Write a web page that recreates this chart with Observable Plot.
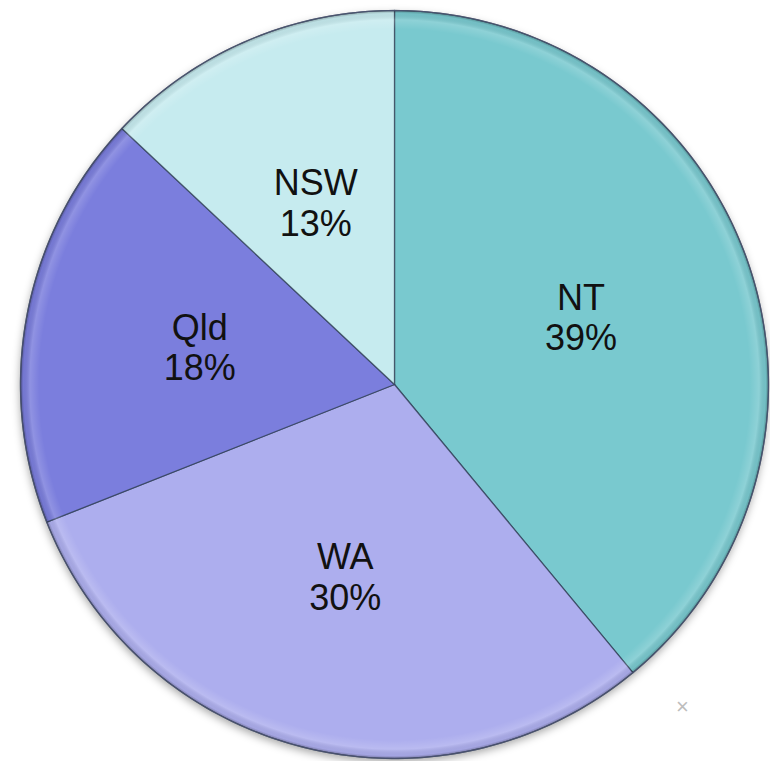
<!DOCTYPE html>
<html>
<head>
<meta charset="utf-8">
<script src="https://cdn.jsdelivr.net/npm/d3@7"></script>
<script src="https://cdn.jsdelivr.net/npm/@observablehq/plot@0.6"></script>
<style>
  html, body { margin: 0; padding: 0; background: #fff; }
  #wrap { position: relative; width: 770px; height: 761px; }
  #stray { position: absolute; left: 676px; top: 694px; font: 22px "Liberation Sans", Arial, sans-serif; color: #bdbdbd; }
</style>
</head>
<body>
<div id="wrap"><div id="chart"></div><span id="stray">×</span></div>
<script>
// ---- data ----
const states = ["NT", "WA", "Qld", "NSW"];
const shares = [39, 30, 18, 13];
const colors = ["#79c9cf", "#adaeee", "#7b7edd", "#c6ebef"];

// ---- build slice polygons from the data ----
const total = d3.sum(shares);
const slices = [];
const labels = [];
let cum = 0;
states.forEach((s, i) => {
  const a0 = cum / total * 2 * Math.PI;
  cum += shares[i];
  const a1 = cum / total * 2 * Math.PI;
  slices.push({state: s, x: 0, y: 0});
  const n = Math.max(2, Math.ceil((a1 - a0) / (Math.PI / 180)));
  for (let k = 0; k <= n; k++) {
    const a = a0 + (a1 - a0) * k / n;
    slices.push({state: s, x: Math.sin(a), y: Math.cos(a)});
  }
  const am = (a0 + a1) / 2;
  const lr = 0.53;
  labels.push({state: s, share: shares[i], x: lr * Math.sin(am), y: lr * Math.cos(am)});
});
const rim = d3.range(0, 361).map(d => ({x: Math.sin(d * Math.PI / 180), y: Math.cos(d * Math.PI / 180)}));

const plot = Plot.plot({
  width: 770,
  height: 761,
  marginLeft: 20,
  marginRight: 2,
  marginTop: 10,
  marginBottom: 3,
  x: {domain: [-1, 1], axis: null},
  y: {domain: [-1, 1], axis: null},
  color: {domain: states, range: colors},
  style: {background: "transparent"},
  marks: [
    Plot.line(rim, {x: "x", y: "y", curve: "linear-closed", fill: "#000", fillOpacity: 0.35, stroke: "none"}),
    Plot.line(slices, {x: "x", y: "y", z: "state", fill: "state", stroke: "#2f3f56", strokeOpacity: 0.75, strokeWidth: 1.3, curve: "linear-closed"}),
    Plot.line(rim, {x: "x", y: "y", curve: "linear-closed", fill: "url(#rimGrad)", stroke: "#4a5270", strokeWidth: 1.2, strokeOpacity: 0.85}),
    Plot.text(labels, {x: "x", y: "y", text: d => `${d.state}\n${d.share}%`, fontSize: 36, lineHeight: 1.12, fill: "#111", fontFamily: "Liberation Sans, Arial, sans-serif"})
  ]
});

// gradient + shadow definitions
const svg = d3.select(plot);
const defs = svg.insert("defs", ":first-child");
const g = defs.append("radialGradient").attr("id", "rimGrad").attr("cx", "50%").attr("cy", "50%").attr("r", "50%");
g.append("stop").attr("offset", "0%").attr("stop-color", "#fff").attr("stop-opacity", 0);
g.append("stop").attr("offset", "95%").attr("stop-color", "#fff").attr("stop-opacity", 0);
g.append("stop").attr("offset", "97.5%").attr("stop-color", "#fff").attr("stop-opacity", 0.16);
g.append("stop").attr("offset", "99.2%").attr("stop-color", "#000").attr("stop-opacity", 0.05);
g.append("stop").attr("offset", "100%").attr("stop-color", "#000").attr("stop-opacity", 0.3);
const f = defs.append("filter").attr("id", "shadow").attr("x", "-10%").attr("y", "-10%").attr("width", "120%").attr("height", "120%");
f.append("feGaussianBlur").attr("stdDeviation", 4);
const lines = plot.querySelectorAll('g[aria-label="line"]');
if (lines[0]) { lines[0].setAttribute("filter", "url(#shadow)"); lines[0].setAttribute("transform", "translate(0,4)"); }

document.getElementById("chart").appendChild(plot);
</script>
</body>
</html>
